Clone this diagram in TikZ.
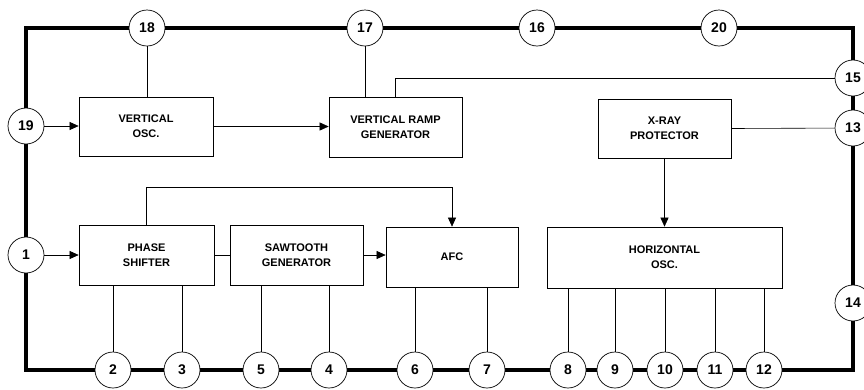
\documentclass[tikz,border=0pt]{standalone}
\usepackage{fontspec}
\setmainfont{Liberation Sans}
\usetikzlibrary{arrows.meta,positioning}
\tikzset{
  blk/.style  ={draw, line width=0.7pt, align=center, inner sep=0pt,
                font=\fontsize{11}{15}\selectfont\bfseries},
  pin/.style  ={draw, circle, fill=white, minimum size=36pt, inner sep=0pt,
                line width=0.7pt, font=\fontsize{14}{14}\selectfont\bfseries},
  wire/.style ={line width=0.6pt},
  arr/.style  ={-{Triangle[length=9pt,width=8pt]}, line width=0.6pt},
  chip/.style ={line width=3.5pt, line join=miter},
}

\begin{document}
\begin{tikzpicture}[x=1pt,y=-1pt]
  \useasboundingbox (0,0) rectangle (864,389);
  \draw[chip] (26,28) rectangle (853,370);

  \node[blk, minimum width=134pt, minimum height=59pt] (vosc)  at (146,126.5) {VERTICAL\\OSC.};
  \node[blk, minimum width=133pt, minimum height=60pt] (vramp) at (395.5,127) {VERTICAL RAMP\\GENERATOR};
  \node[blk, minimum width=133pt, minimum height=59pt] (xray)  at (664.5,128.5) {X-RAY\\PROTECTOR};
  \node[blk, minimum width=135pt, minimum height=60pt] (phase) at (146.5,255) {PHASE\\SHIFTER};
  \node[blk, minimum width=133pt, minimum height=60pt] (saw)   at (296.5,255) {SAWTOOTH\\GENERATOR};
  \node[blk, minimum width=132pt, minimum height=60pt] (afc)   at (452,257) {AFC};
  \node[blk, minimum width=235pt, minimum height=61pt] (hosc)  at (664.5,257.5) {HORIZONTAL\\OSC.};

  \node[pin] (p18) at (147,28) {18};
  \node[pin] (p17) at (365,28) {17};
  \node[pin] (p16) at (537,28) {16};
  \node[pin] (p20) at (719,28) {20};
  \node[pin] (p15) at (853,78) {15};
  \node[pin] (p13) at (853,128) {13};
  \node[pin] (p14) at (853,303) {14};
  \node[pin] (p19) at (26,126) {19};
  \node[pin] (p1)  at (26,255) {1};
  \foreach \n/\x in {2/113, 3/182, 5/261, 4/329, 6/415, 7/487,
                     8/568, 9/615, 10/665, 11/715, 12/764}
    \node[pin] (p\n) at (\x,370) {\n};

  \draw[wire] (p18) -- (p18 |- vosc.north);
  \draw[wire] (p17) -- (p17 |- vramp.north);
  \draw[wire] (vramp.north) |- (p15);
  \draw[arr]  (p19) -- (p19 -| vosc.west);
  \draw[arr]  (vosc.east) -- (vosc.east -| vramp.west);
  \draw[wire] (xray.east) -- (p13);
  \draw[arr]  (xray) -- (hosc);

  \draw[arr]  (p1) -- (p1 -| phase.west);
  \draw[wire] (phase) -- (saw);
  \draw[arr]  (saw.east) -- (saw.east -| afc.west);
  \draw[arr]  (phase.north) -- ++(0,-37) -| (afc.north);

  \foreach \n in {2,3}
    \draw[wire] (phase.south -| p\n) -- (p\n);
  \foreach \n in {5,4}
    \draw[wire] (saw.south -| p\n) -- (p\n);
  \foreach \n in {6,7}
    \draw[wire] (afc.south -| p\n) -- (p\n);
  \foreach \n in {8,9,10,11,12}
    \draw[wire] (hosc.south -| p\n) -- (p\n);
\end{tikzpicture}
\end{document}
